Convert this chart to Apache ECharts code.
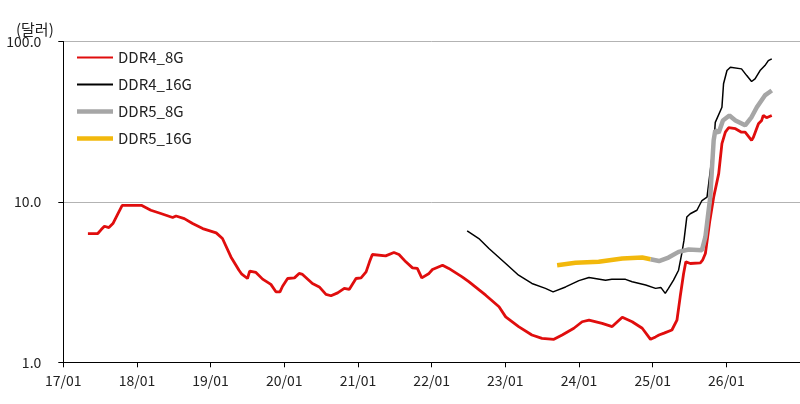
<!DOCTYPE html>
<html>
<head>
<meta charset="utf-8">
<script src="https://cdn.jsdelivr.net/npm/echarts@6/dist/echarts.min.js"></script>
<style>
html,body{margin:0;padding:0;background:#fff;}
#chart{width:800px;height:404px;}
</style>
</head>
<body>
<div id="chart"></div>
<script>
// ---- data (USD) ----
const unitLabel = '(달러)';
const seriesNames = ['DDR4_8G', 'DDR4_16G', 'DDR5_8G', 'DDR5_16G'];
const yTickLabels = ['1.0', '10.0', '100.0'];

const ddr4_8g_dates = ['2017-05-03','2017-06-21','2017-07-08','2017-07-24','2017-08-15','2017-09-04','2017-09-29','2017-10-20','2018-01-23','2018-03-11','2018-04-22','2018-06-27','2018-07-14','2018-08-24','2018-10-04','2018-11-23','2019-01-29','2019-03-01','2019-04-12','2019-05-22','2019-06-05','2019-07-03','2019-07-14','2019-08-14','2019-09-16','2019-10-27','2019-11-21','2019-12-11','2019-12-24','2020-01-18','2020-02-21','2020-03-15','2020-04-01','2020-05-20','2020-06-23','2020-07-26','2020-08-20','2020-09-22','2020-10-25','2020-11-19','2020-12-22','2021-01-16','2021-02-10','2021-02-27','2021-03-13','2021-05-18','2021-06-28','2021-07-23','2021-08-26','2021-09-28','2021-10-22','2021-11-13','2021-12-19','2022-01-05','2022-02-24','2022-03-27','2022-06-01','2022-07-04','2022-09-26','2022-12-01','2023-01-03','2023-03-08','2023-05-13','2023-07-02','2023-08-30','2023-10-10','2023-12-07','2024-01-17','2024-02-20','2024-04-25','2024-06-14','2024-08-03','2024-09-21','2024-11-10','2024-12-21','2025-01-15','2025-02-01','2025-02-26','2025-04-06','2025-05-01','2025-05-17','2025-06-03','2025-06-14','2025-07-06','2025-08-25','2025-09-05','2025-09-19','2025-10-10','2025-10-30','2025-11-24','2025-12-10','2025-12-27','2026-01-12','2026-02-15','2026-03-17','2026-04-04','2026-05-06','2026-05-15','2026-06-09','2026-06-25','2026-07-03','2026-07-19','2026-08-14'];
const ddr4_8g_values = [6.35,6.35,6.72,7.05,6.92,7.33,8.46,9.52,9.52,8.87,8.53,7.99,8.17,7.87,7.33,6.82,6.41,5.91,4.54,3.75,3.54,3.33,3.70,3.63,3.30,3.06,2.75,2.75,2.98,3.33,3.36,3.58,3.53,3.10,2.95,2.65,2.60,2.71,2.89,2.85,3.33,3.36,3.66,4.23,4.70,4.61,4.84,4.70,4.23,3.88,3.85,3.36,3.58,3.79,4.03,3.85,3.41,3.18,2.62,2.22,1.92,1.67,1.48,1.41,1.39,1.48,1.63,1.79,1.83,1.75,1.67,1.91,1.79,1.63,1.39,1.44,1.48,1.52,1.59,1.83,2.56,3.58,4.23,4.13,4.17,4.33,4.77,7.50,10.7,15.0,23.1,27.2,29.0,28.6,27.2,27.2,24.2,25.3,30.7,32.2,34.6,33.5,34.6];

const ddr4_16g_dates = ['2022-06-26','2022-08-23','2022-10-12','2023-01-03','2023-03-08','2023-05-13','2023-07-19','2023-08-26','2023-10-27','2024-01-01','2024-02-20','2024-05-12','2024-06-12','2024-08-19','2024-09-21','2024-11-27','2025-01-15','2025-02-10','2025-03-04','2025-03-20','2025-04-14','2025-05-09','2025-05-25','2025-06-05','2025-06-19','2025-07-06','2025-08-08','2025-09-02','2025-09-27','2025-10-05','2025-11-01','2025-11-07','2025-12-10','2025-12-18','2026-01-04','2026-01-21','2026-03-17','2026-04-12','2026-05-06','2026-05-23','2026-06-17','2026-07-11','2026-07-28','2026-08-14'];
const ddr4_16g_values = [6.59,5.91,5.12,4.13,3.49,3.10,2.89,2.75,2.95,3.23,3.38,3.25,3.29,3.29,3.18,3.03,2.89,2.93,2.69,2.89,3.25,3.75,4.77,5.77,8.06,8.44,8.87,10.2,10.7,10.9,24.2,31.3,38.9,54.5,65.9,69.1,67.5,61.3,56.3,58.5,65.9,70.8,76.0,77.9];

const ddr5_8g_dates = ['2024-12-21','2025-02-01','2025-03-20','2025-05-09','2025-06-28','2025-09-02','2025-09-19','2025-10-13','2025-10-30','2025-11-07','2025-11-24','2025-12-15','2026-01-16','2026-02-15','2026-04-04','2026-05-06','2026-06-01','2026-07-11','2026-08-14'];
const ddr5_8g_values = [4.39,4.28,4.50,4.88,5.05,5.00,6.05,10.7,24.2,27.9,27.0,32.2,34.6,32.2,30.0,33.8,38.9,46.1,49.5];

const ddr5_16g_dates = ['2023-09-15','2023-12-15','2024-04-08','2024-08-03','2024-11-10','2024-12-21'];
const ddr5_16g_values = [4.03,4.17,4.23,4.44,4.50,4.39];

function pairs(d, v) { return d.map((x, i) => [x, v[i]]); }

const FONT = "'Noto Sans CJK KR', 'Noto Sans', sans-serif";
const THIN_ICON = 'path://M0,0H36V2H0Z';
const THICK_ICON = 'path://M0,0H36V4.5H0Z';
const chart = echarts.init(document.getElementById('chart'));
chart.setOption({
  animation: false,
  backgroundColor: '#fff',
  textStyle: { fontFamily: FONT },
  title: {
    text: unitLabel, left: 11, top: 17,
    textStyle: { fontSize: 15, fontWeight: 'normal', color: '#222', fontFamily: FONT }
  },
  legend: {
    orient: 'vertical', left: 72, top: 45,
    itemWidth: 36, itemHeight: 14, itemGap: 12,
    symbolKeepAspect: true,
    textStyle: { fontSize: 15, color: '#222', fontFamily: FONT },
    data: [
      { name: seriesNames[0], icon: THIN_ICON },
      { name: seriesNames[1], icon: THIN_ICON },
      { name: seriesNames[2], icon: THICK_ICON },
      { name: seriesNames[3], icon: THICK_ICON }
    ]
  },
  grid: { left: 63.3, right: 0, top: 41.5, bottom: 41.7, containLabel: false },
  xAxis: {
    type: 'time',
    min: '2017-01-01', max: '2027-01-01',
    splitNumber: 10,
    minInterval: 365 * 86400000,
    axisLine: { lineStyle: { color: '#000', width: 1 } },
    axisTick: { show: true, length: 5, lineStyle: { color: '#000' } },
    axisLabel: {
      formatter: '{yy}/{MM}', fontSize: 14, color: '#222', margin: 11,
      showMaxLabel: false, fontFamily: FONT
    },
    splitLine: { show: false }
  },
  yAxis: {
    type: 'log', logBase: 10, min: 1, max: 100,
    axisLine: { show: true, lineStyle: { color: '#000', width: 1 } },
    axisTick: { show: true, length: 5, lineStyle: { color: '#000' } },
    axisLabel: {
      fontSize: 14, color: '#222', margin: 22, fontFamily: FONT,
      formatter: function (v) {
        const idx = Math.round(Math.log10(v));
        return yTickLabels[idx] !== undefined ? yTickLabels[idx] : '';
      }
    },
    splitLine: { show: true, lineStyle: { color: '#b3b3b3', width: 1 } }
  },
  series: [
    { name: seriesNames[0], type: 'line', showSymbol: false, symbol: 'none',
      data: pairs(ddr4_8g_dates, ddr4_8g_values),
      lineStyle: { color: '#e00d0d', width: 2.8 }, itemStyle: { color: '#e00d0d' } },
    { name: seriesNames[1], type: 'line', showSymbol: false, symbol: 'none',
      data: pairs(ddr4_16g_dates, ddr4_16g_values),
      lineStyle: { color: '#000', width: 1.5 }, itemStyle: { color: '#000' } },
    { name: seriesNames[2], type: 'line', showSymbol: false, symbol: 'none',
      data: pairs(ddr5_8g_dates, ddr5_8g_values),
      lineStyle: { color: '#a6a6a6', width: 4.5 }, itemStyle: { color: '#a6a6a6' } },
    { name: seriesNames[3], type: 'line', showSymbol: false, symbol: 'none',
      data: pairs(ddr5_16g_dates, ddr5_16g_values),
      lineStyle: { color: '#f2b80c', width: 4.5 }, itemStyle: { color: '#f2b80c' } }
  ]
});
</script>
</body>
</html>
